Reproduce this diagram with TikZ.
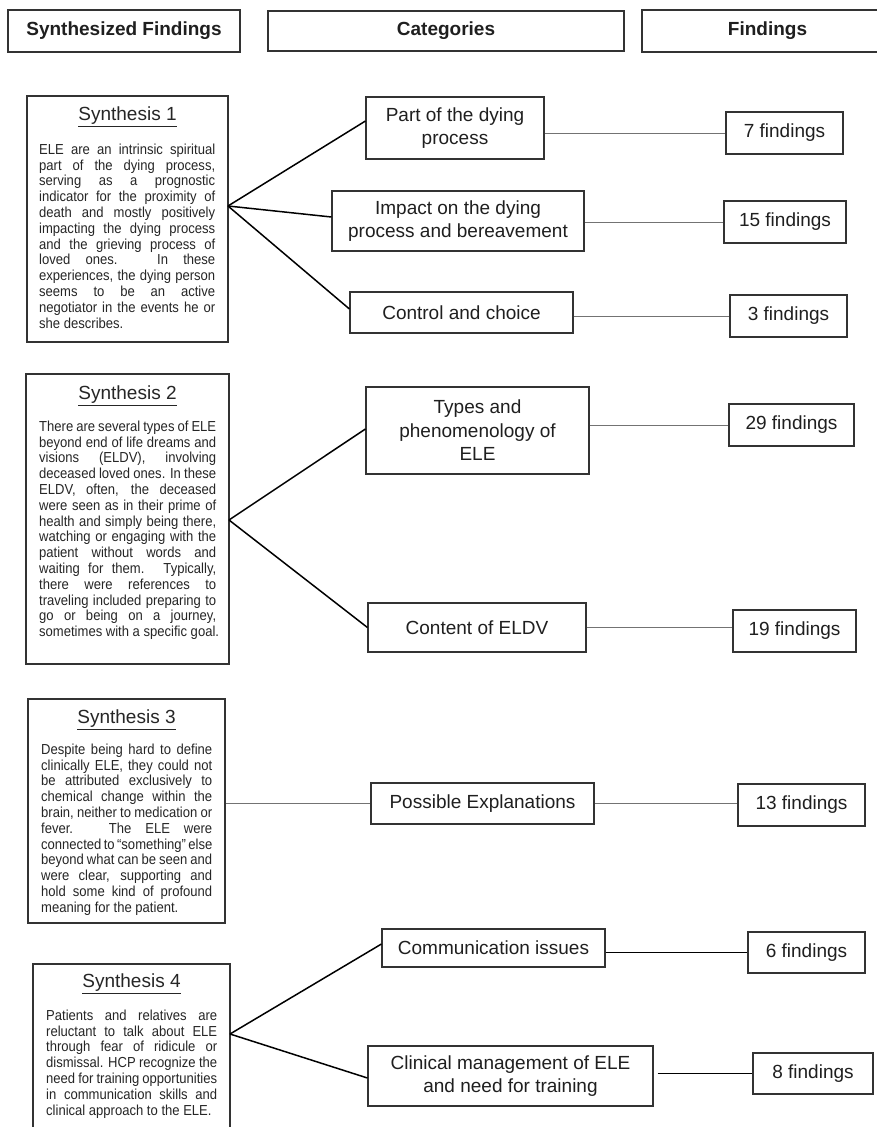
\documentclass[tikz,border=0pt]{standalone}
\usepackage{fontspec}
\setmainfont{Liberation Sans}
\newfontfamily\bodyfont[FakeStretch=0.9]{Liberation Sans}
\newcommand{\ja}[1]{\makebox[176pt][s]{#1}}
\newcommand{\jb}[1]{\makebox[177pt][s]{#1}}
\newcommand{\jc}[1]{\makebox[171pt][s]{#1}}
\tikzset{
  box/.style={draw=black!80, line width=1.1pt, inner sep=0pt, fill=white, text=black!88},
  hdr/.style={box, font=\fontsize{19}{22}\selectfont\bfseries},
  cat/.style={box, align=center, font=\fontsize{19}{23.5}\selectfont},
  fnd/.style={box, font=\fontsize{19}{22}\selectfont, minimum height=42pt},
  syn/.style={box},
  ttl/.style={font=\fontsize{19}{22}\selectfont, text=black!85, inner sep=0pt, anchor=base},
  body/.style={font=\bodyfont\fontsize{14.5}{15.8}\selectfont, align=left, inner sep=0pt, anchor=north west, text=black!85},
  link/.style={draw=black, line width=1.5pt},
  flink/.style={draw=black!55, line width=0.9pt},
}
\begin{document}
\begin{tikzpicture}[x=1pt,y=-1pt]
\useasboundingbox (0,0) rectangle (877,1127);
\clip (0,0) rectangle (877,1127);
\fill[white] (0,0) rectangle (877,1127);

% headers
\node[hdr, minimum width=232pt, minimum height=42pt] (h1) at (124,31) {Synthesized Findings};
\node[hdr, minimum width=356pt, minimum height=40pt] (h2) at (446,31) {Categories};
\node[hdr, minimum width=251pt, minimum height=42pt] (h3) at (767.5,31) {Findings};

% synthesis boxes
\node[syn, minimum width=201pt, minimum height=246pt] (s1) at (127.5,219) {};
\node[syn, minimum width=203pt, minimum height=290pt] (s2) at (127.5,519) {};
\node[syn, minimum width=197pt, minimum height=224pt] (s3) at (126.5,811) {};
\node[syn, minimum width=197pt, minimum height=180pt] (s4) at (131.5,1054) {};

\node[ttl] (st1) at ([yshift=-25.5pt]s1.north) {\underline{Synthesis 1}};
\node[ttl] (st2) at ([yshift=-26pt]s2.north) {\underline{Synthesis 2}};
\node[ttl] (st3) at ([yshift=-25pt]s3.north) {\underline{Synthesis 3}};
\node[ttl] (st4) at ([yshift=-24pt]s4.north) {\underline{Synthesis 4}};

\node[body] (b1) at (39,143.6) {%
\ja{ELE are an intrinsic spiritual}\\
\ja{part of the dying process,}\\
\ja{serving as a prognostic}\\
\ja{indicator for the proximity of}\\
\ja{death and mostly positively}\\
\ja{impacting the dying process}\\
\ja{and the grieving process of}\\
\ja{loved ones. In these}\\
\ja{experiences, the dying person}\\
\ja{seems to be an active}\\
\ja{negotiator in the events he or}\\
she describes.};

\node[body] (b2) at (39,420.6) {%
\jb{There are several types of ELE}\\
\jb{beyond end of life dreams and}\\
\jb{visions (ELDV), involving}\\
\jb{deceased loved ones. In these}\\
\jb{ELDV, often, the deceased}\\
\jb{were seen as in their prime of}\\
\jb{health and simply being there,}\\
\jb{watching or engaging with the}\\
\jb{patient without words and}\\
\jb{waiting for them. Typically,}\\
\jb{there were references to}\\
\jb{traveling included preparing to}\\
\jb{go or being on a journey,}\\
sometimes with a specific goal.};

\node[body] (b3) at (41,743.6) {%
\jc{Despite being hard to define}\\
\jc{clinically ELE, they could not}\\
\jc{be attributed exclusively to}\\
\jc{chemical change within the}\\
\jc{brain, neither to medication or}\\
\jc{fever. The ELE were}\\
\jc{connected to “something” else}\\
\jc{beyond what can be seen and}\\
\jc{were clear, supporting and}\\
\jc{hold some kind of profound}\\
meaning for the patient.};

\node[body] (b4) at (46,1009.6) {%
\jc{Patients and relatives are}\\
\jc{reluctant to talk about ELE}\\
\jc{through fear of ridicule or}\\
\jc{dismissal. HCP recognize the}\\
\jc{need for training opportunities}\\
\jc{in communication skills and}\\
clinical approach to the ELE.};

% categories
\node[cat, minimum width=178pt, minimum height=62pt] (p1) at (455,128) {Part of the dying\\process};
\node[cat, minimum width=252pt, minimum height=60pt] (p2) at (458,221) {Impact on the dying\\process and bereavement};
\node[cat, minimum width=223pt, minimum height=41pt] (p3) at (461.5,312.5) {Control and choice};
\node[cat, minimum width=223pt, minimum height=87pt] (t1) at (477.5,430.5) {Types and\\phenomenology of\\ELE};
\node[cat, minimum width=218pt, minimum height=49pt] (t2) at (477,627.5) {Content of ELDV};
\node[cat, minimum width=223pt, minimum height=41pt] (e1) at (482.5,803.5) {Possible Explanations};
\node[cat, minimum width=223pt, minimum height=38pt] (c1) at (493.5,948) {Communication issues};
\node[cat, minimum width=285pt, minimum height=60pt] (c2) at (510.5,1076) {Clinical management of ELE\\and need for training};

% findings
\node[fnd, minimum width=117pt] (f1) at (784.5,133) {7 findings};
\node[fnd, minimum width=122pt] (f2) at (785,222) {15 findings};
\node[fnd, minimum width=117pt] (f3) at (788.5,316) {3 findings};
\node[fnd, minimum width=125pt] (f4) at (791.5,425) {29 findings};
\node[fnd, minimum width=123pt] (f5) at (794.5,631) {19 findings};
\node[fnd, minimum width=127pt] (f6) at (801.5,805) {13 findings};
\node[fnd, minimum width=117pt, minimum height=41pt] (f7) at (806.5,952.5) {6 findings};
\node[fnd, minimum width=120pt, minimum height=41pt] (f8) at (813,1073.5) {8 findings};

% junctions
\coordinate (j1) at (228,206);
\coordinate (j2) at (229,520);
\coordinate (j4) at (230,1034);

% synthesis to categories
\draw[link] (j1) -- ([yshift=7pt]p1.west);
\draw[link] (j1) -- ([yshift=4pt]p2.west);
\draw[link] (j1) -- ([yshift=3.5pt]p3.west);
\draw[link] (j2) -- ([yshift=1.5pt]t1.west);
\draw[link] (j2) -- (t2.west);
\draw[flink] (s3.east |- e1.west) -- (e1.west);
\draw[link] (j4) -- ([yshift=4pt]c1.west);
\draw[link] (j4) -- ([yshift=-2pt]c2.west);

% categories to findings
\draw[flink] (p1.east |- f1.west) -- (f1.west);
\draw[flink] (p2.east |- f2.west) -- (f2.west);
\draw[flink] (p3.east |- f3.west) -- (f3.west);
\draw[flink] (t1.east |- f4.west) -- (f4.west);
\draw[flink] (t2.east) -- (t2.east -| f5.west);
\draw[flink] (e1.east) -- (e1.east -| f6.west);
\draw[link] (c1.east |- f7.west) -- (f7.west);
\draw[link] ([xshift=4pt]c2.east |- f8.west) -- (f8.west);
\end{tikzpicture}
\end{document}
